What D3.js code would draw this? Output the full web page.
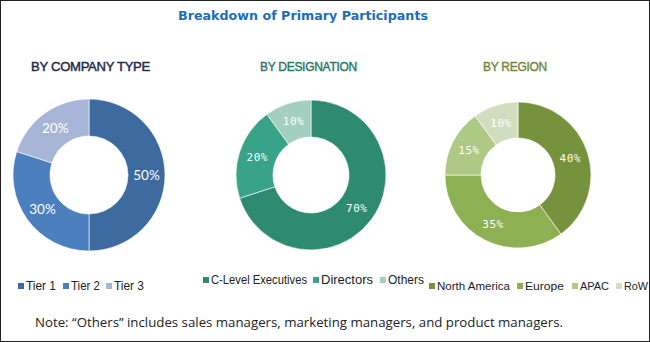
<!DOCTYPE html>
<html>
<head>
<meta charset="utf-8">
<script src="https://cdn.jsdelivr.net/npm/d3@7"></script>
<style>
html,body{margin:0;padding:0;background:#fff;}
svg{display:block;}
</style>
</head>
<body>
<svg id="chart" width="650" height="342"></svg>
<script>
// ---- data ----
const companyCategories = ["Tier 1", "Tier 2", "Tier 3"];
const companyValues = [50, 30, 20];
const designationCategories = ["C-Level Executives", "Directors", "Others"];
const designationValues = [70, 20, 10];
const regionCategories = ["North America", "Europe", "APAC", "RoW"];
const regionValues = [40, 35, 15, 10];
const companyColors = ["#3D6A9F", "#4C7FBE", "#A7B6D7"];
const designationColors = ["#2E8B72", "#38A389", "#A2CFBF"];
const regionColors = ["#76923C", "#8DB152", "#ADC985", "#D0DDBF"];

const svg = d3.select("#chart");
svg.append("rect").attr("x",0.5).attr("y",0.5).attr("width",649).attr("height",341)
  .attr("fill","#fff").attr("stroke","#222").attr("stroke-width",1);

svg.append("text").attr("x",303).attr("y",20).attr("text-anchor","middle")
  .attr("font-family","DejaVu Sans").attr("font-weight","bold").attr("font-size",12.5)
  .attr("fill","#1F6DB3").attr("textLength",250).attr("lengthAdjust","spacingAndGlyphs")
  .text("Breakdown of Primary Participants");

const pie = d3.pie().sort(null).value(d => d);

function donut(cfg){
  const g = svg.append("g").attr("transform",`translate(${cfg.cx},${cfg.cy})`);
  const arc = d3.arc().innerRadius(cfg.ri).outerRadius(cfg.ro);
  const labelArc = d3.arc().innerRadius((cfg.ri+cfg.ro)/2).outerRadius((cfg.ri+cfg.ro)/2);
  const color = d3.scaleOrdinal().domain(cfg.cats).range(cfg.colors);
  const arcs = pie(cfg.values);
  g.selectAll("path").data(arcs).join("path")
    .attr("d",arc).attr("fill",(d,i)=>color(cfg.cats[i]))
    .attr("stroke","#fff").attr("stroke-width",0.6);
  g.selectAll("text.lbl").data(arcs).join("text").attr("class","lbl")
    .attr("x",d=>labelArc.centroid(d)[0]).attr("y",d=>labelArc.centroid(d)[1])
    .attr("dy","0.35em").attr("text-anchor","middle")
    .attr("font-family",cfg.labelFont).attr("font-size",cfg.labelSize)
    .attr("letter-spacing",cfg.labelSpacing||0)
    .attr("fill","#fff").text(d=>d.data+"%");
  svg.append("text").attr("x",cfg.titleX).attr("y",71)
    .attr("font-family","Liberation Sans Narrow, Liberation Sans, Arial").attr("font-size",13)
    .attr("fill",cfg.titleColor).attr("stroke",cfg.titleColor).attr("stroke-width",0.45)
    .attr("textLength",cfg.titleW).attr("lengthAdjust","spacingAndGlyphs")
    .attr("letter-spacing",-0.3)
    .text(cfg.title);
  // legend
  const lg = svg.append("g");
  cfg.cats.forEach((c,i)=>{
    lg.append("rect").attr("x",cfg.legX[i]).attr("y",cfg.legY-6).attr("width",6).attr("height",6)
      .attr("fill",color(c));
    lg.append("text").attr("x",cfg.legX[i]+8).attr("y",cfg.legY+0.5)
      .attr("font-family",cfg.legFont).attr("font-size",cfg.legSize)
      .attr("fill","#222").attr("textLength",cfg.legW[i]).attr("lengthAdjust","spacingAndGlyphs")
      .text(c);
  });
}

donut({cx:89, cy:175, ri:39, ro:76, values:companyValues, cats:companyCategories, colors:companyColors,
  labelFont:"Lato, DejaVu Sans", labelSize:13.5, title:"BY COMPANY TYPE", titleX:31, titleW:119, titleColor:"#1E2B4A",
  legX:[18,63,106], legY:289, legW:[30,29,30], legFont:"Liberation Sans", legSize:13});
donut({cx:311, cy:175, ri:38, ro:75, values:designationValues, cats:designationCategories, colors:designationColors,
  labelFont:"DejaVu Sans Mono", labelSize:11, labelSpacing:0.5, title:"BY DESIGNATION", titleX:260, titleW:97, titleColor:"#2B7A67",
  legX:[203,313,380], legY:283, legW:[96,52,36], legFont:"Liberation Sans Narrow, Liberation Sans", legSize:12.5});
donut({cx:518, cy:175, ri:37, ro:73, values:regionValues, cats:regionCategories, colors:regionColors,
  labelFont:"DejaVu Sans Mono", labelSize:11, labelSpacing:0.5, title:"BY REGION", titleX:483, titleW:64, titleColor:"#76873A",
  legX:[429,517,572,616], legY:289, legW:[73,39,29,24], legFont:"Liberation Sans", legSize:11});

svg.append("text").attr("x",35).attr("y",327)
  .attr("font-family","Open Sans, Liberation Sans").attr("font-size",13)
  .attr("fill","#222").attr("textLength",528).attr("lengthAdjust","spacingAndGlyphs")
  .text("Note: \u201cOthers\u201d includes sales managers, marketing managers, and product managers.");
</script>
</body>
</html>
